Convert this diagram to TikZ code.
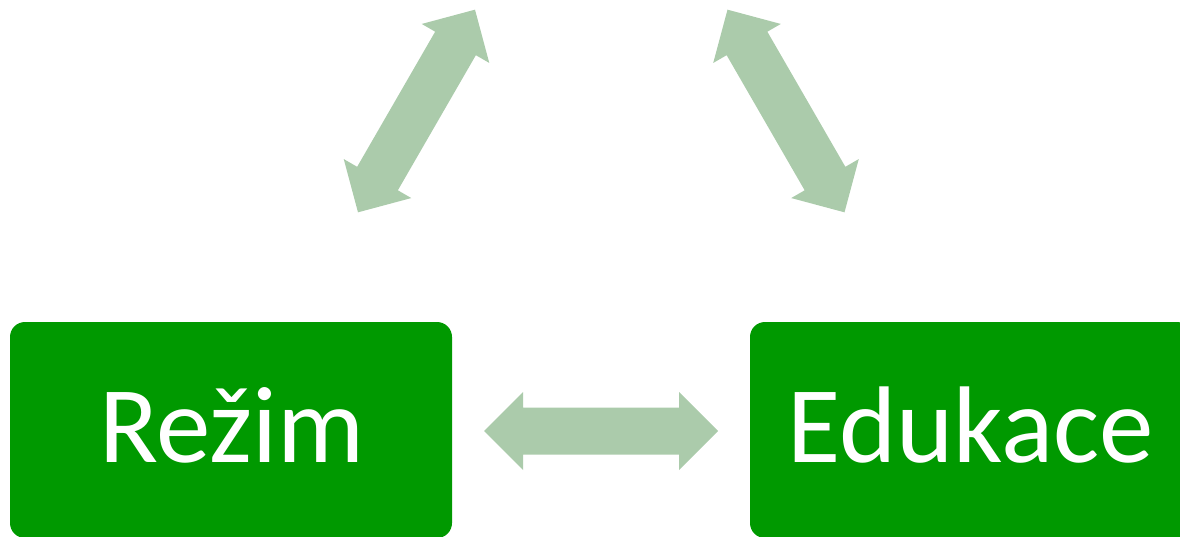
\documentclass[tikz,border=0pt]{standalone}
\usepackage{fontspec}
\setmainfont{Carlito}
\definecolor{boxgreen}{RGB}{0,153,0}
\definecolor{arrowgreen}{RGB}{171,203,171}
\tikzset{
  box/.style={fill=boxgreen, draw=none, rounded corners=15pt, minimum width=442pt, minimum height=216pt, inner sep=0pt},
  boxtext/.style={text=white, font=\fontsize{109}{109}\selectfont, anchor=base, inner sep=0pt},
  blockarrow/.style={fill=arrowgreen, draw=none}
}
\newcommand{\dblarrow}{(-117,0) -- (-78,39) -- (-78,23.5) -- (78,23.5) -- (78,39) -- (117,0) -- (78,-39) -- (78,-23.5) -- (-78,-23.5) -- (-78,-39) -- cycle}
\begin{document}
\begin{tikzpicture}[x=1pt,y=-1pt]
\useasboundingbox (0,0) rectangle (1180,537);
\clip (0,0) rectangle (1180,537);
\node[box] (rezim) at (231,430) {};
\node[box] (edukace) at (971,430) {};
\node[boxtext] (rezimt) at (232,462) {Režim};
\node[boxtext] (edukacet) at (971,462) {Edukace};
\begin{scope}[shift={(601,431)}]
  \fill[blockarrow] \dblarrow;
\end{scope}
\begin{scope}[shift={(416.5,111)}, rotate=60]
  \fill[blockarrow] \dblarrow;
\end{scope}
\begin{scope}[shift={(786,111)}, rotate=-60]
  \fill[blockarrow] \dblarrow;
\end{scope}
\end{tikzpicture}
\end{document}
